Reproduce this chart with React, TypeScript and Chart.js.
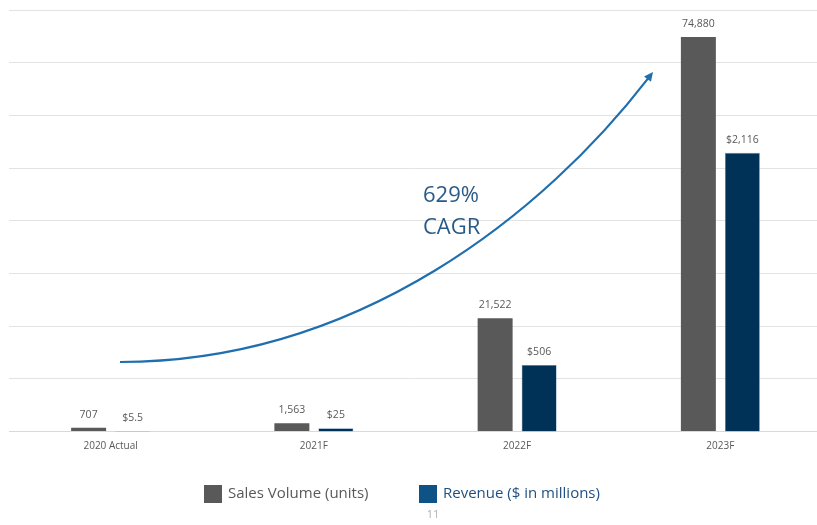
import React, { useEffect, useRef } from "react";
import { Chart, registerables } from "chart.js";

Chart.register(...registerables);

const categories = ["2020 Actual", "2021F", "2022F", "2023F"];
const salesVolume = [707, 1563, 21522, 74880];
const revenue = [5.5, 25, 506, 2116];
const salesLabels = ["707", "1,563", "21,522", "74,880"];
const revenueLabels = ["$5.5", "$25", "$506", "$2,116"];
const legendNames = ["Sales Volume (units)", "Revenue ($ in millions)"];
const cagrLines = ["629%", "CAGR"];
const pageNumber = "11";

const GRAY = "#595959";
const NAVY = "#003257";
const LEGEND_BLUE = "#0e5386";
const ARROW = "#1f6eae";
const FONT = "'Open Sans', Lato, sans-serif";

const overlayPlugin = {
  id: "overlay",
  afterDatasetsDraw(chart: any) {
    const ctx = chart.ctx as CanvasRenderingContext2D;
    ctx.save();
    // data labels
    ctx.font = `10.5px ${FONT}`;
    ctx.fillStyle = GRAY;
    ctx.textAlign = "center";
    ctx.textBaseline = "middle";
    const labelSets = [salesLabels, revenueLabels];
    chart.data.datasets.forEach((_: any, di: number) => {
      const meta = chart.getDatasetMeta(di);
      meta.data.forEach((bar: any, i: number) => {
        ctx.fillText(labelSets[di][i], bar.x, bar.y - 13);
      });
    });

    // CAGR arrow
    const p0 = { x: 120, y: 362 };
    const p1 = { x: 360, y: 362 };
    const p2 = { x: 545, y: 212 };
    const p3 = { x: 653, y: 72 };
    const ang = Math.atan2(p3.y - p2.y, p3.x - p2.x);
    const headLen = 10;
    const endX = p3.x - Math.cos(ang) * headLen * 0.8;
    const endY = p3.y - Math.sin(ang) * headLen * 0.8;
    ctx.strokeStyle = ARROW;
    ctx.lineWidth = 2.2;
    ctx.beginPath();
    ctx.moveTo(p0.x, p0.y);
    ctx.bezierCurveTo(p1.x, p1.y, p2.x, p2.y, endX, endY);
    ctx.stroke();
    ctx.fillStyle = ARROW;
    ctx.beginPath();
    ctx.moveTo(p3.x, p3.y);
    ctx.lineTo(p3.x - headLen * Math.cos(ang - 0.45), p3.y - headLen * Math.sin(ang - 0.45));
    ctx.lineTo(p3.x - headLen * Math.cos(ang + 0.45), p3.y - headLen * Math.sin(ang + 0.45));
    ctx.closePath();
    ctx.fill();

    // CAGR text
    ctx.fillStyle = "#2a5a88";
    ctx.font = `22px ${FONT}`;
    ctx.textAlign = "left";
    ctx.textBaseline = "middle";
    ctx.fillText(cagrLines[0], 423, 196);
    ctx.fillText(cagrLines[1], 423, 228);

    // legend
    ctx.font = `15px ${FONT}`;
    ctx.textBaseline = "middle";
    ctx.fillStyle = GRAY;
    ctx.fillRect(204, 485, 18, 18);
    ctx.fillText(legendNames[0], 228, 494);
    ctx.fillStyle = LEGEND_BLUE;
    ctx.fillRect(419, 485, 18, 18);
    ctx.fillStyle = "#1f5080";
    ctx.fillText(legendNames[1], 443, 494);

    // page number
    ctx.fillStyle = "#b0b0b0";
    ctx.font = `11px ${FONT}`;
    ctx.textAlign = "center";
    ctx.fillText(pageNumber, 433, 515);
    ctx.restore();
  },
};

export default function App() {
  const ref = useRef<HTMLCanvasElement | null>(null);
  useEffect(() => {
    if (!ref.current) return;
    const chart = new Chart(ref.current, {
      type: "bar",
      data: {
        labels: categories,
        datasets: [
          {
            label: legendNames[0],
            data: salesVolume,
            backgroundColor: GRAY,
            yAxisID: "y",
            barPercentage: 0.795,
            categoryPercentage: 0.433,
          },
          {
            label: legendNames[1],
            data: revenue,
            backgroundColor: NAVY,
            borderColor: "#6f93b3",
            borderWidth: 0.6,
            yAxisID: "y1",
            barPercentage: 0.795,
            categoryPercentage: 0.433,
          },
        ],
      },
      options: {
        responsive: false,
        animation: false,
        layout: { padding: { left: 9, right: 3, top: 10, bottom: 63.4 } },
        plugins: {
          legend: { display: false },
          tooltip: { enabled: false },
        },
        scales: {
          x: {
            grid: { display: false, drawTicks: false },
            border: { display: true, color: "#d9d9d9", width: 1 },
            ticks: {
              color: GRAY,
              font: { size: 10, family: FONT },
              padding: 9,
            },
          },
          y: {
            position: "left",
            min: 0,
            max: 80000,
            ticks: { display: false, stepSize: 10000 },
            grid: { color: "#e3e3e3", drawTicks: false, lineWidth: 1 },
            border: { display: false },
          },
          y1: {
            position: "right",
            display: false,
            min: 0,
            max: 3200,
            grid: { display: false },
          },
        },
      },
      plugins: [overlayPlugin],
    });
    return () => chart.destroy();
  }, []);
  return (
    <div
      style={{
        position: "fixed",
        left: 0,
        top: 0,
        width: 817,
        height: 525,
        overflow: "hidden",
        background: "#fff",
      }}
    >
      <canvas ref={ref} width={825} height={525} style={{ display: "block" }} />
    </div>
  );
}
